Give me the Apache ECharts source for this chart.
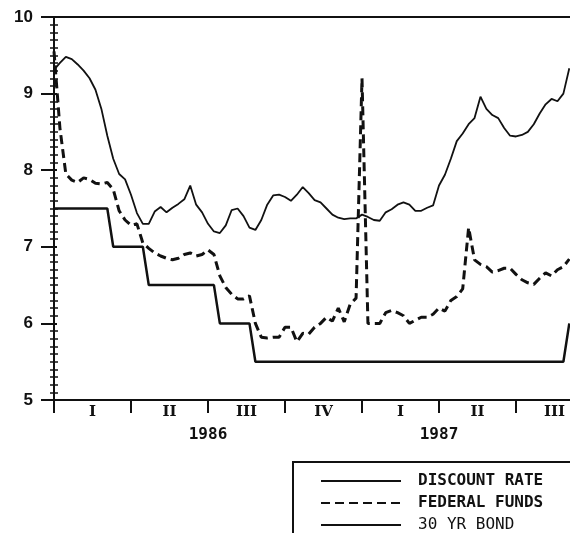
<!DOCTYPE html>
<html>
<head>
<meta charset="utf-8">
<script src="https://cdn.jsdelivr.net/npm/echarts@6/dist/echarts.min.js"></script>
<style>
  html, body { margin: 0; padding: 0; background: #fff; }
  #chart { width: 570px; height: 533px; }
</style>
</head>
<body>
<div id="chart"></div>
<script>
// Weekly readings, week 0 = first week of January 1986, in percent.
const discountRate = [
  7.5, 7.5, 7.5, 7.5, 7.5, 7.5, 7.5, 7.5, 7.5, 7.5,
  7.0, 7.0, 7.0, 7.0, 7.0, 7.0,
  6.5, 6.5, 6.5, 6.5, 6.5, 6.5, 6.5, 6.5, 6.5, 6.5, 6.5, 6.5,
  6.0, 6.0, 6.0, 6.0, 6.0, 6.0,
  5.5, 5.5, 5.5, 5.5, 5.5, 5.5, 5.5, 5.5, 5.5, 5.5,
  5.5, 5.5, 5.5, 5.5, 5.5, 5.5, 5.5, 5.5, 5.5, 5.5,
  5.5, 5.5, 5.5, 5.5, 5.5, 5.5, 5.5, 5.5, 5.5, 5.5,
  5.5, 5.5, 5.5, 5.5, 5.5, 5.5, 5.5, 5.5, 5.5, 5.5,
  5.5, 5.5, 5.5, 5.5, 5.5, 5.5, 5.5, 5.5, 5.5, 5.5,
  5.5, 5.5, 5.5,
  6.0
];

const federalFunds = [
  9.55, 8.55, 7.95, 7.87, 7.84, 7.90, 7.88, 7.83, 7.82, 7.84,
  7.75, 7.47, 7.35, 7.28, 7.30, 7.05, 6.98, 6.92, 6.88, 6.85,
  6.83, 6.85, 6.90, 6.92, 6.88, 6.90, 6.96, 6.90, 6.62, 6.47,
  6.38, 6.32, 6.32, 6.36, 6.00, 5.82, 5.81, 5.82, 5.82, 5.95,
  5.95, 5.76, 5.87, 5.86, 5.95, 6.00, 6.08, 6.03, 6.20, 6.02,
  6.25, 6.33, 9.20, 6.00, 6.00, 6.00, 6.14, 6.17, 6.14, 6.10,
  6.00, 6.04, 6.08, 6.08, 6.12, 6.20, 6.16, 6.30, 6.35, 6.45,
  7.25, 6.83, 6.77, 6.74, 6.67, 6.69, 6.72, 6.72, 6.64, 6.57,
  6.53, 6.51, 6.59, 6.66, 6.62, 6.70, 6.74, 6.84
];

const bond30yr = [
  9.31, 9.40, 9.48, 9.45, 9.38, 9.30, 9.20, 9.05, 8.80, 8.45,
  8.15, 7.95, 7.88, 7.68, 7.44, 7.30, 7.30, 7.46, 7.52, 7.45,
  7.51, 7.56, 7.62, 7.80, 7.55, 7.45, 7.30, 7.20, 7.18, 7.28,
  7.48, 7.50, 7.40, 7.25, 7.22, 7.35, 7.55, 7.67, 7.68, 7.65,
  7.60, 7.68, 7.78, 7.70, 7.61, 7.58, 7.50, 7.42, 7.38, 7.36,
  7.37, 7.37, 7.42, 7.39, 7.35, 7.34, 7.45, 7.49, 7.55, 7.58,
  7.55, 7.47, 7.47, 7.51, 7.54, 7.80, 7.94, 8.15, 8.38, 8.48,
  8.60, 8.68, 8.96, 8.80, 8.72, 8.68, 8.55, 8.45, 8.44, 8.46,
  8.50, 8.60, 8.74, 8.86, 8.93, 8.90, 9.00, 9.33
];

const quarterLabels = ['I', 'II', 'III', 'IV', 'I', 'II', 'III'];
const yearLabels = { 26: '1986', 65: '1987' };
const seriesNames = ['DISCOUNT RATE', 'FEDERAL FUNDS', '30 YR BOND'];

const INK = '#111';
const MONO = "'DejaVu Sans Mono', 'Liberation Mono', monospace";

function toPoints(values) {
  return values.map((v, i) => [i, v]);
}

const chart = echarts.init(document.getElementById('chart'), null, { renderer: 'canvas' });

chart.setOption({
  animation: false,
  backgroundColor: '#fff',
  grid: { left: 54, top: 17, width: 539, height: 383, outerBoundsMode: 'none' },
  xAxis: [
    {
      type: 'value', position: 'bottom', min: 0, max: 91, interval: 13,
      axisLine: { show: true, lineStyle: { color: INK, width: 2 } },
      axisTick: { show: true, length: 13, lineStyle: { color: INK, width: 2 } },
      splitLine: { show: false },
      axisLabel: {
        margin: 27, color: INK, fontFamily: MONO, fontWeight: 'bold', fontSize: 16,
        formatter: v => yearLabels[v] || ''
      }
    },
    {
      type: 'category', position: 'bottom', data: quarterLabels, boundaryGap: true,
      axisLine: { show: false }, axisTick: { show: false }, splitLine: { show: false },
      axisLabel: {
        margin: 5, color: INK, fontFamily: "'DejaVu Serif', serif",
        fontWeight: 'bold', fontSize: 15
      }
    },
    {
      type: 'value', position: 'top', min: 0, max: 91,
      axisLine: { show: true, lineStyle: { color: INK, width: 2 } },
      axisTick: { show: false }, axisLabel: { show: false }, splitLine: { show: false }
    }
  ],
  yAxis: [
    {
      type: 'value', position: 'left', min: 5, max: 10, interval: 1,
      axisLine: { show: true, lineStyle: { color: INK, width: 2 } },
      axisTick: { show: true, length: 13, lineStyle: { color: INK, width: 2 } },
      minorTick: { show: true, splitNumber: 10, length: 4, lineStyle: { color: INK, width: 1.5 } },
      splitLine: { show: false }, minorSplitLine: { show: false },
      axisLabel: {
        margin: 21, color: INK, fontFamily: "'Liberation Sans', Arial, sans-serif",
        fontWeight: 'bold', fontSize: 17
      }
    },
    {
      type: 'value', position: 'left', min: 5, max: 10, interval: 1,
      axisLine: { show: false },
      axisTick: { show: true, inside: true, length: 3, lineStyle: { color: INK, width: 2 } },
      minorTick: { show: true, splitNumber: 10, length: 4, lineStyle: { color: INK, width: 1.5 } },
      splitLine: { show: false }, axisLabel: { show: false }
    }
  ],
  legend: {
    data: seriesNames,
    orient: 'vertical',
    left: 293, top: 462, height: 80,
    padding: [11, 60, 30, 27],
    itemWidth: 80, itemHeight: 14, itemGap: 6,
    borderColor: INK, borderWidth: 2,
    selectedMode: false,
    itemStyle: { color: 'rgba(0,0,0,0)', borderWidth: 0, opacity: 0 },
    formatter: name => name === '30 YR BOND' ? '{n|' + name + '}' : '{b|' + name + '}',
    textStyle: {
      color: INK, padding: [0, 0, 0, 12],
      rich: {
        b: { color: INK, fontFamily: MONO, fontWeight: 'bold', fontSize: 16 },
        n: { color: INK, fontFamily: MONO, fontWeight: 'normal', fontSize: 16 }
      }
    }
  },
  series: [
    {
      name: seriesNames[0], type: 'line', xAxisIndex: 0, yAxisIndex: 0,
      data: toPoints(discountRate), symbol: 'none', color: INK,
      lineStyle: { color: INK, width: 2.5 }
    },
    {
      name: seriesNames[1], type: 'line', xAxisIndex: 0, yAxisIndex: 0,
      data: toPoints(federalFunds), symbol: 'none', color: INK,
      lineStyle: { color: INK, width: 3, type: [9, 5] }
    },
    {
      name: seriesNames[2], type: 'line', xAxisIndex: 0, yAxisIndex: 0,
      data: toPoints(bond30yr), symbol: 'none', color: INK,
      lineStyle: { color: INK, width: 1.8 }
    }
  ]
});
</script>
</body>
</html>
